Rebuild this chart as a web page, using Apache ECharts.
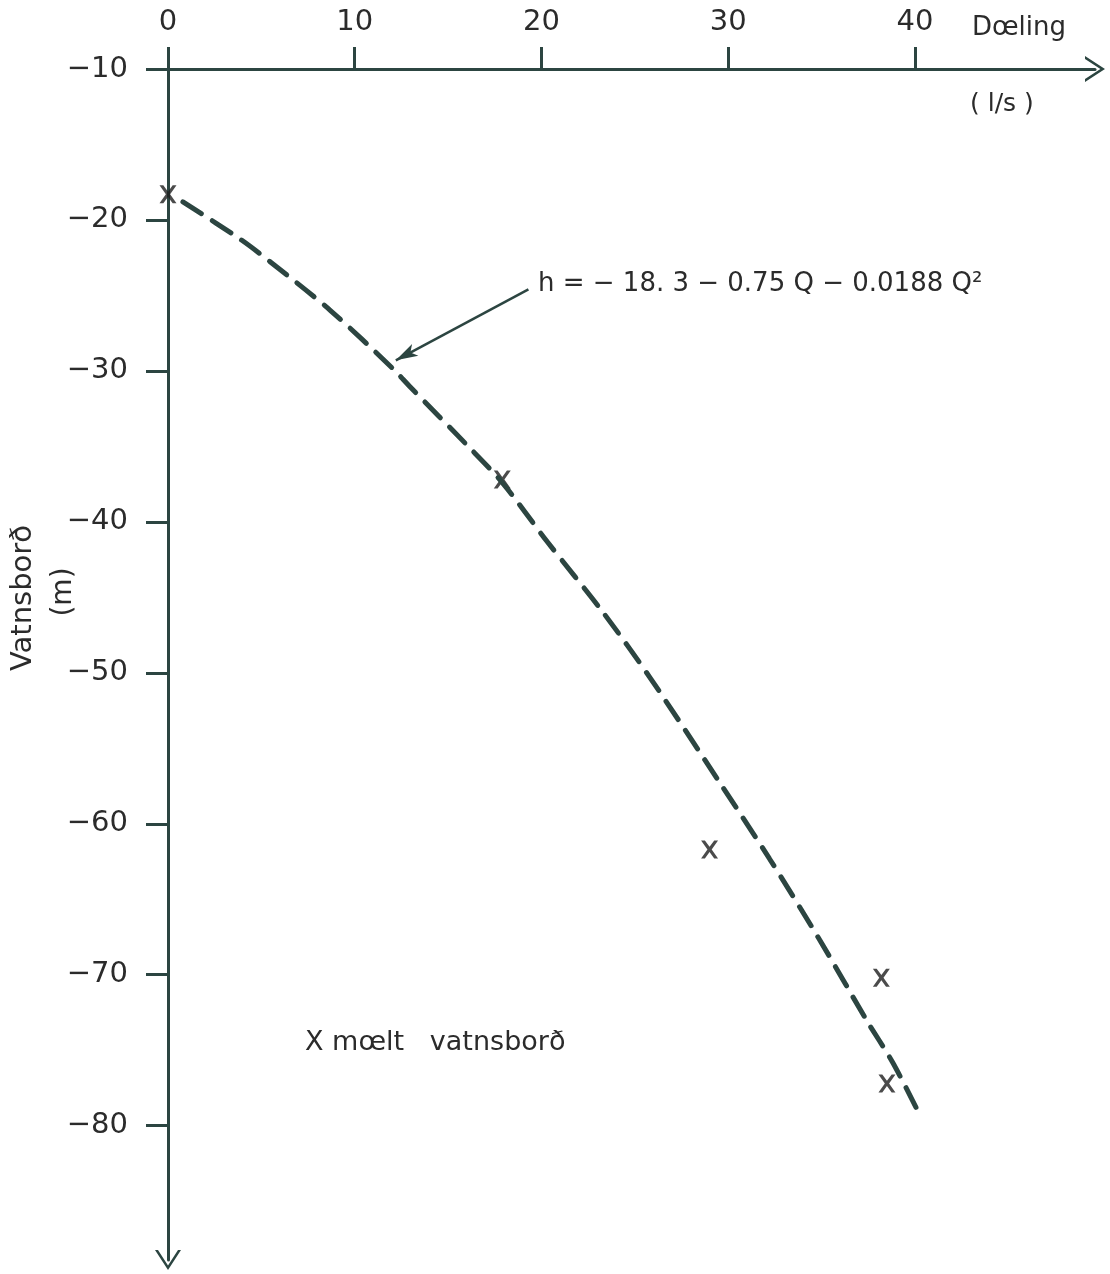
<!DOCTYPE html>
<html lang="is">
<head>
<meta charset="UTF-8">
<title>Dæling og vatnsborð</title>
<script src="https://cdn.jsdelivr.net/npm/echarts@6/dist/echarts.min.js"></script>
<style>
    html, body { margin: 0; padding: 0; background: #fff; }
    #chart { width: 1110px; height: 1274px; }
</style>
</head>
<body>
<div id="chart"></div>
<script>
    // mæld vatnsborð (Q l/s, h m)
    var maeltQ = [0, 17.9, 29.0, 38.2, 38.5];
    var maeltH = [-18.3, -37.2, -61.7, -70.2, -77.2];

    // brotalínan, lesin af myndinni
    var ferillQ = [0.8, 3.9, 5.5, 8.7, 12.0, 13.0, 16.0, 17.9, 20.3, 23.3, 25.8, 29.4, 32.2, 34.9, 37.4, 38.8, 40.1];
    var ferillH = [-18.8, -21.3, -22.8, -26.0, -29.8, -31.1, -34.9, -37.4, -41.3, -46.0, -50.3, -57.0, -62.3, -67.7, -73.0, -75.8, -78.9];

    // ör frá jöfnu að ferli
    var pilFra = [19.3, -24.6];
    var pilTil = [12.2, -29.3];

    var xTicks = [0, 10, 20, 30, 40];
    var yTicks = [-10, -20, -30, -40, -50, -60, -70, -80];

    var ink = '#2c4541';
    var txt = '#2b2b2b';
    var font = 'DejaVu Sans';
    var chevron = 'path://M0,20 L13,0 L26,20 L23,20 L13,4.6 L3,20 Z';
    var xMark = 'path://M0,0 L3.6,0 L8,6 L12.4,0 L16,0 L10,8.5 L16,17 L12.4,17 L8,11 L3.6,17 L0,17 L6,8.5 Z';

    function zip(a, b) {
        var out = [];
        for (var i = 0; i < a.length; i++) out.push([a[i], b[i]]);
        return out;
    }

    function neg(v) {
        return v < 0 ? '\u2212' + Math.abs(v) : String(v);
    }

    function texti(x, y, s, size, extra) {
        var el = { type: 'text', x: x, y: y, style: { text: s, fontSize: size, fontFamily: font, fill: txt, verticalAlign: 'middle' } };
        if (extra) {
            for (var k in extra) el[k] = extra[k];
            el.style.align = 'center';
        }
        return el;
    }

    var chart = echarts.init(document.getElementById('chart'));

    chart.setOption({
        backgroundColor: '#fff',
        animation: false,
        textStyle: { fontFamily: font, color: txt },
        grid: { left: 168, top: 69, right: 15, bottom: 14, outerBoundsMode: 'none' },
        xAxis: {
            type: 'value',
            position: 'top',
            min: 0,
            max: 49.64,
            axisLine: {
                show: true,
                symbol: ['none', chevron],
                symbolSize: [26, 20],
                lineStyle: { color: ink, width: 3 }
            },
            axisTick: { show: true, customValues: xTicks, length: 22, lineStyle: { color: ink, width: 3 } },
            axisLabel: { customValues: xTicks, margin: 32, fontSize: 29, fontFamily: font, color: txt },
            splitLine: { show: false }
        },
        yAxis: {
            type: 'value',
            min: -88.9,
            max: -10,
            axisLine: {
                show: true,
                symbol: [chevron, 'none'],
                symbolSize: [26, 20],
                lineStyle: { color: ink, width: 3 }
            },
            axisTick: { show: true, customValues: yTicks, length: 22, lineStyle: { color: ink, width: 3 } },
            axisLabel: { customValues: yTicks, margin: 40, fontSize: 29, fontFamily: font, color: txt, formatter: neg },
            splitLine: { show: false }
        },
        series: [
            {
                type: 'line',
                data: zip(ferillQ, ferillH),
                smooth: 0.3,
                showSymbol: false,
                lineStyle: { color: ink, width: 5, type: [22, 13], cap: 'round' },
                markLine: {
                    silent: true,
                    symbol: ['none', 'arrow'],
                    symbolSize: [10, 22],
                    label: { show: false },
                    lineStyle: { color: ink, width: 2.5, type: 'solid' },
                    data: [[{ coord: pilFra }, { coord: pilTil }]]
                }
            },
            {
                type: 'scatter',
                data: zip(maeltQ, maeltH),
                symbol: xMark,
                symbolSize: [17, 18],
                itemStyle: { color: '#1e1e1e' }
            }
        ],
        graphic: [
            texti(972, 28, 'Dœling', 26),
            texti(970, 104, '( l/s )', 25),
            texti(538, 284, 'h = \u2212 18. 3 \u2212 0.75 Q \u2212 0.0188 Q²', 26),
            texti(305, 1043, 'X mœlt   vatnsborð', 27),
            texti(23, 598, 'Vatnsborð', 29, { rotation: Math.PI / 2 }),
            texti(64, 592, '(m)', 28, { rotation: Math.PI / 2 })
        ]
    });
</script>
</body>
</html>
